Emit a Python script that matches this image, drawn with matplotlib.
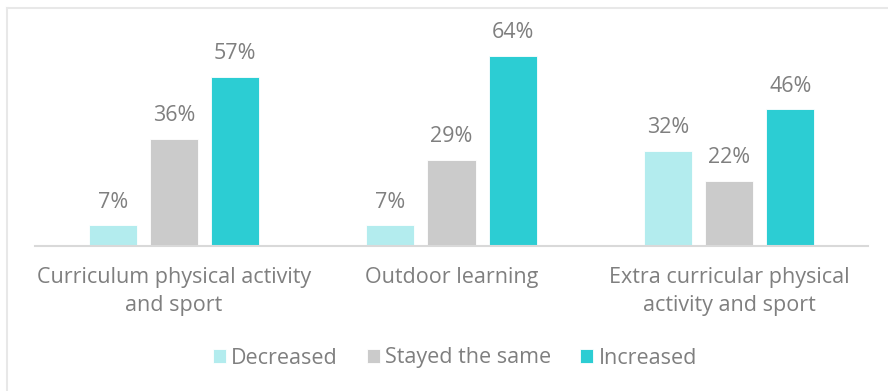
import matplotlib.pyplot as plt
import numpy as np
from matplotlib.lines import Line2D

categories = ["Curriculum physical activity\nand sport", "Outdoor learning",
              "Extra curricular physical\nactivity and sport"]
series = ["Decreased", "Stayed the same", "Increased"]
decreased = [7, 7, 32]
stayed = [36, 29, 22]
increased = [57, 64, 46]

colors = ["#b3ecee", "#cbcbcb", "#2ccdd3"]
text_grey = "#7f7f7f"

plt.rcParams["font.family"] = ["Open Sans", "DejaVu Sans"]

fig = plt.figure(figsize=(8.88, 3.91), dpi=100)
ax = fig.add_axes([35 / 888, 1 - 246 / 391, (868 - 35) / 888, (246 - 20) / 391])

x = np.arange(len(categories))
width = 0.173
step = 0.22
for i, (name, vals) in enumerate(zip(series, [decreased, stayed, increased])):
    bars = ax.bar(x + (i - 1) * step, vals, width, color=colors[i], label=name,
                  edgecolor="white", linewidth=0.6)
    for b, v in zip(bars, vals):
        ax.annotate(f"{v}%", (b.get_x() + b.get_width() / 2, v),
                    xytext=(0, 9), textcoords="offset points",
                    ha="center", va="bottom", fontsize=15.5, color=text_grey)

ax.set_xlim(-0.5, 2.5)
ax.set_ylim(0, 76)
ax.set_yticks([])
ax.set_xticks(x)
ax.set_xticklabels(categories, fontsize=15.5, color=text_grey, linespacing=1.45)
ax.tick_params(axis="x", length=0, pad=15)
for s in ["top", "right", "left"]:
    ax.spines[s].set_visible(False)
ax.spines["bottom"].set_color("#d9d9d9")
ax.spines["bottom"].set_linewidth(1.5)

leg = fig.legend(loc="center", bbox_to_anchor=(455 / 888, 1 - 358 / 391), ncol=3,
                 frameon=False, fontsize=15.5, handlelength=0.6, handleheight=0.6,
                 handletextpad=0.25, columnspacing=1.35)
for t in leg.get_texts():
    t.set_color(text_grey)

# light frame around the chart area
fig.add_artist(Line2D([7 / 888, 1], [1 - 8 / 391, 1 - 8 / 391], color="#e8e8e8", lw=1.5))
fig.add_artist(Line2D([7 / 888, 7 / 888], [0, 1 - 8 / 391], color="#e8e8e8", lw=1.5))

fig.savefig("out.png", dpi=100)
